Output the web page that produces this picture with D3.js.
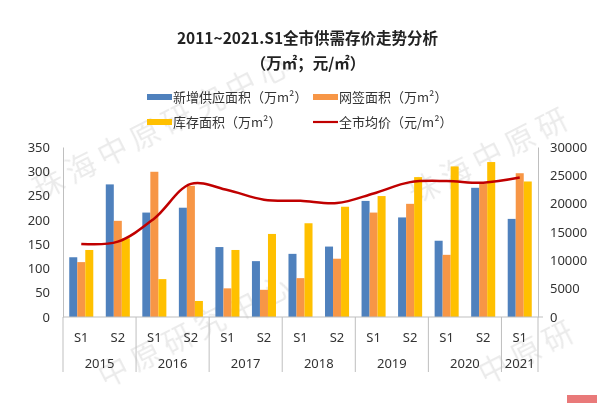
<!DOCTYPE html>
<html><head><meta charset="utf-8">
<script src="https://cdn.jsdelivr.net/npm/d3@7"></script>
<style>body{margin:0;background:#fff}svg{display:block}</style>
</head><body>
<script>
const halves = ["S1","S2","S1","S2","S1","S2","S1","S2","S1","S2","S1","S2","S1"];
const years = ["2015","2016","2017","2018","2019","2020","2021"];
const yearSpans = [2,2,2,2,2,2,1];
const supply = [123,273,215,225,144,115,130,145,239,205,157,266,202];
const sales = [113,198,299,270,59,56,80,120,215,233,128,275,296];
const stock = [138,162,78,33,138,171,193,227,249,288,310,319,279];
const price = [12900,13300,17400,23500,22400,20700,20500,20100,21800,23800,24000,23700,24600];
const leftTicks = [0,50,100,150,200,250,300,350];
const rightTicks = [0,5000,10000,15000,20000,25000,30000];
const seriesNames = ["新增供应面积（万m²）","网签面积（万m²）","库存面积（万m²）","全市均价（元/m²）"];
const colors = ["#4F81BD","#F79646","#FFC000","#C00000"];

const W=614,H=403, x0=63, x1=538, yTop=147, yBot=317;
const svg=d3.select("body").append("svg").attr("width",W).attr("height",H);
const font="'Noto Sans CJK SC','Noto Sans',sans-serif";

// watermark
const wm=svg.append("g").attr("fill","#000").attr("opacity",0.08).attr("font-family",font).attr("font-size",30);
[[40,200,"珠海中原研究中心"],[415,205,"珠海中原研"],[105,388,"中原研究中心"],[485,385,"中原研"]].forEach(([x,y,t])=>{
  wm.append("text").attr("transform",`translate(${x},${y}) rotate(-27)`).attr("letter-spacing",6).text(t);
});

const cats=halves.map((h,i)=>i);
const xb=d3.scaleBand().domain(cats).range([x0,x1]).paddingInner(0.342).paddingOuter(0.171);
const xs=d3.scaleBand().domain([0,1,2]).range([0,xb.bandwidth()]);
const yL=d3.scaleLinear().domain([0,350]).range([yBot,yTop]);
const yR=d3.scaleLinear().domain([0,30000]).range([yBot,yTop]);

// title
svg.append("text").attr("x",307.5).attr("y",44).attr("text-anchor","middle").attr("font-family",font)
  .attr("font-weight","bold").attr("font-size",15.5).attr("fill","#222").text("2011~2021.S1全市供需存价走势分析");
svg.append("text").attr("x",308).attr("y",69).attr("text-anchor","middle").attr("font-family",font)
  .attr("font-weight","bold").attr("font-size",15.5).attr("fill","#222").text("（万㎡；元/㎡）");

// legend
const lg=[[147,97,0],[313,97,1],[147,122,2],[313,122,3]];
lg.forEach(([x,y,i])=>{
  if(i<3) svg.append("rect").attr("x",x).attr("y",y-3).attr("width",25).attr("height",6).attr("fill",colors[i]);
  else svg.append("line").attr("x1",x).attr("x2",x+25).attr("y1",y).attr("y2",y).attr("stroke",colors[i]).attr("stroke-width",2.2);
  svg.append("text").attr("x",x+26).attr("y",y+4.5).attr("font-family",font).attr("font-size",13).attr("fill","#333").text(seriesNames[i]);
});

// axes
const axC="#bfbfbf";
const gl=svg.append("g").attr("transform",`translate(${x0},0)`).call(d3.axisLeft(yL).tickValues(leftTicks).tickSize(0).tickPadding(13));
const gr=svg.append("g").attr("transform",`translate(${x1},0)`).call(d3.axisRight(yR).tickValues(rightTicks).tickFormat(d3.format("d")).tickSize(0).tickPadding(12));
[gl,gr].forEach(g=>{g.select(".domain").attr("stroke",axC);g.selectAll("text").attr("font-family","'Noto Sans',sans-serif").attr("font-size",13).attr("fill","#333");});
svg.append("line").attr("x1",x1).attr("x2",x1+5).attr("y1",yBot).attr("y2",yBot).attr("stroke",axC);

// bars
const data=[supply,sales,stock];
data.forEach((arr,s)=>{
  svg.append("g").selectAll("rect").data(arr).join("rect")
    .attr("x",(d,i)=>xb(i)+xs(s)).attr("width",xs.bandwidth())
    .attr("y",d=>yL(d)).attr("height",d=>yBot-yL(d)).attr("fill",colors[s]);
});

// bottom axis
svg.append("line").attr("x1",x0).attr("x2",x1).attr("y1",yBot).attr("y2",yBot).attr("stroke",axC);
const step=xb.step();
let acc=0;
const seps=[0];
yearSpans.forEach(n=>{acc+=n;seps.push(acc);});
seps.forEach(k=>{
  const x=x0+k*step;
  svg.append("line").attr("x1",x).attr("x2",x).attr("y1",yBot).attr("y2",372).attr("stroke",axC);
});
halves.forEach((h,i)=>{
  svg.append("text").attr("x",xb(i)+xb.bandwidth()/2).attr("y",341.5).attr("text-anchor","middle")
    .attr("font-family","'Noto Sans',sans-serif").attr("font-size",13).attr("fill","#333").text(h);
});
years.forEach((y,k)=>{
  const cx=x0+(seps[k]+seps[k+1])/2*step;
  svg.append("text").attr("x",cx).attr("y",368).attr("text-anchor","middle")
    .attr("font-family","'Noto Sans',sans-serif").attr("font-size",13).attr("fill","#333").text(y);
});

// line
const line=d3.line().x((d,i)=>xb(i)+xb.bandwidth()/2).y(d=>yR(d)).curve(d3.curveCatmullRom.alpha(0.5));
svg.append("path").datum(price).attr("d",line).attr("fill","none").attr("stroke",colors[3]).attr("stroke-width",2.5);

// corner logo hint
svg.append("rect").attr("x",567).attr("y",395).attr("width",30).attr("height",8).attr("fill","#e04040").attr("opacity",0.7);
</script>
</body></html>
